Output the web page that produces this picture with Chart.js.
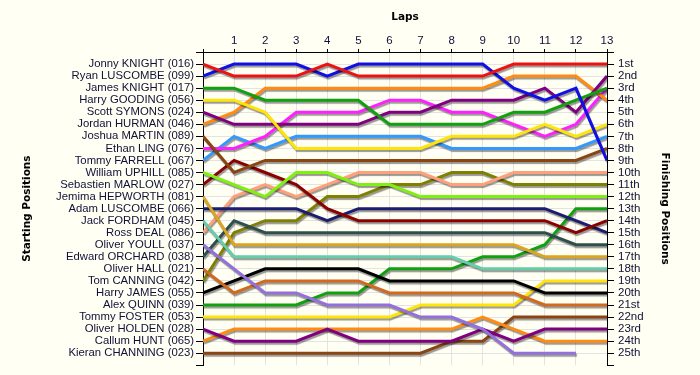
<!DOCTYPE html>
<html>
<head>
<meta charset="utf-8">
<script src="https://cdn.jsdelivr.net/npm/chart.js@4.4.1/dist/chart.umd.min.js"></script>
<style>
  html, body { margin: 0; padding: 0; background: #fffff4; }
  #wrap { width: 700px; height: 375px; }
</style>
</head>
<body>
<div id="wrap"><canvas id="chart"></canvas></div>
<script>
// Lap numbers (0 = grid)
const laps = [0, 1, 2, 3, 4, 5, 6, 7, 8, 9, 10, 11, 12, 13]

// Drivers in starting order
const drivers = [
  'Jonny KNIGHT (016)', 'Ryan LUSCOMBE (099)', 'James KNIGHT (017)', 'Harry GOODING (056)',
  'Scott SYMONS (024)', 'Jordan HURMAN (046)', 'Joshua MARTIN (089)', 'Ethan LING (076)',
  'Tommy FARRELL (067)', 'William UPHILL (085)', 'Sebastien MARLOW (027)', 'Jemima HEPWORTH (081)',
  'Adam LUSCOMBE (066)', 'Jack FORDHAM (045)', 'Ross DEAL (086)', 'Oliver YOULL (037)',
  'Edward ORCHARD (038)', 'Oliver HALL (021)', 'Tom CANNING (042)', 'Harry JAMES (055)',
  'Alex QUINN (039)', 'Tommy FOSTER (053)', 'Oliver HOLDEN (028)', 'Callum HUNT (065)',
  'Kieran CHANNING (023)'
]

// Finishing position labels
const finishLabels = [
  '1st', '2nd', '3rd', '4th', '5th', '6th', '7th', '8th', '9th', '10th', '11th', '12th', '13th',
  '14th', '15th', '16th', '17th', '18th', '19th', '20th', '21st', '22nd', '23rd', '24th', '25th'
]

// Position of each driver after every lap
const positions = [
  [1, 2, 2, 2, 1, 2, 2, 2, 2, 2, 1, 1, 1, 1],
  [2, 1, 1, 1, 2, 1, 1, 1, 1, 1, 3, 4, 3, 9],
  [3, 3, 4, 4, 4, 4, 6, 6, 6, 6, 5, 5, 4, 3],
  [4, 4, 5, 8, 8, 8, 8, 8, 7, 7, 7, 6, 7, 6],
  [5, 6, 6, 6, 6, 6, 5, 5, 4, 4, 4, 3, 5, 2],
  [6, 5, 3, 3, 3, 3, 3, 3, 3, 3, 2, 2, 2, 4],
  [7, 10, 9, 9, 9, 9, 9, 9, 9, 9, 9, 9, 9, 8],
  [8, 8, 7, 5, 5, 5, 4, 4, 5, 5, 6, 7, 6, 3],
  [9, 7, 8, 7, 7, 7, 7, 7, 8, 8, 8, 8, 8, 7],
  [10, 11, 12, 10, 10, 11, 11, 12, 12, 12, 12, 12, 12, 12],
  [11, 9, 10, 11, 13, 14, 14, 14, 14, 14, 14, 14, 15, 14],
  [12, 16, 16, 16, 16, 16, 16, 16, 16, 16, 16, 17, 17, 17],
  [13, 13, 13, 13, 14, 13, 13, 13, 13, 13, 13, 13, 14, 15],
  [14, 17, 17, 17, 17, 17, 17, 17, 17, 18, 18, 18, 18, 18],
  [15, 12, 11, 12, 11, 10, 10, 10, 11, 11, 10, 10, 10, 10],
  [16, 18, 20, 20, 21, 21, 21, 22, 22, 23, 25, 25, 25, null],
  [17, 14, 15, 15, 15, 15, 15, 15, 15, 15, 15, 15, 16, 16],
  [18, 20, 19, 19, 19, 19, 20, 20, 20, 20, 20, 21, 21, 21],
  [19, 15, 14, 14, 12, 12, 11, 11, 10, 10, 11, 11, 11, 11],
  [20, 19, 18, 18, 18, 18, 19, 19, 19, 19, 19, 20, 20, 20],
  [21, 21, 21, 21, 20, 20, 18, 18, 18, 17, 17, 16, 13, 13],
  [22, 22, 22, 22, 22, 22, 22, 21, 21, 21, 21, 19, 19, 19],
  [23, 24, 24, 24, 23, 24, 24, 24, 24, 23, 24, 23, 23, 23],
  [24, 23, 23, 23, 23, 23, 23, 23, 23, 22, 23, 24, 24, 24],
  [25, 25, 25, 25, 25, 25, 25, 25, 24, 24, 22, 22, 22, 22]
]

const lineColors = [
  '#ee1111', '#1010e6', '#10a010', '#ffe40a', '#800080', '#ff8c10', '#8b4513', '#ff20ff',
  '#3399ff', '#80f010', '#8b0000', '#daa520', '#1c1c70', '#66cdaa', '#ffa07a', '#9370db',
  '#2f4f4f', '#d2691e', '#808000', '#000000', '#10a010', '#ffe40a', '#800080', '#ff8c10',
  '#8b4513'
]

const textColor = '#101038'
const gridColor = '#e3e3e3'

// Grey drop shadow under every line
const lineShadow = {
  id: 'lineShadow',
  beforeDatasetsDraw (chart) {
    const ctx = chart.ctx
    ctx.save()
    ctx.shadowColor = 'rgba(0, 0, 0, 0.4)'
    ctx.shadowOffsetX = 1
    ctx.shadowOffsetY = 2
    ctx.shadowBlur = 1
  },
  afterDatasetsDraw (chart) {
    chart.ctx.restore()
  }
}

const datasets = drivers.map((name, i) => ({
  label: name,
  data: laps.map((lap, j) => ({ x: lap, y: positions[i][j] })),
  borderColor: lineColors[i],
  backgroundColor: lineColors[i],
  borderWidth: 3,
  pointRadius: 0,
  tension: 0,
  spanGaps: false,
  yAxisID: 'y'
}))

const hideLast = ctx => (ctx.tick && ctx.tick.value === 26 ? 'rgba(0,0,0,0)' : gridColor)

const chart = new Chart(document.querySelector('#chart').getContext('2d'), {
  type: 'line',
  data: { datasets },
  options: {
    responsive: true,
    maintainAspectRatio: false,
    animation: false,
    layout: { padding: 0 },
    plugins: {
      legend: { display: false },
      tooltip: { enabled: false }
    },
    scales: {
      x: {
        type: 'linear',
        position: 'top',
        min: 0,
        max: 13,
        afterFit: scale => { scale.height = 52 },
        ticks: {
          stepSize: 1,
          padding: 1,
          color: textColor,
          font: { family: 'Liberation Sans, Arial', size: 11.5 },
          callback: v => (v === 0 ? '' : v)
        },
        grid: { color: gridColor, tickColor: '#000', tickLength: 3 },
        border: { color: '#000', width: 1 },
        title: {
          display: true,
          text: 'Laps',
          color: '#000',
          padding: { top: 11, bottom: 0 },
          font: { family: 'DejaVu Sans', size: 10.5, weight: 'bold' }
        }
      },
      y: {
        type: 'linear',
        position: 'left',
        reverse: true,
        min: 0,
        max: 26,
        afterFit: scale => { scale.width = 203 },
        ticks: {
          stepSize: 1,
          autoSkip: false,
          padding: 2,
          color: textColor,
          font: { family: 'Liberation Sans, Arial', size: 11.3, lineHeight: 1 },
          callback: v => (v >= 1 && v <= 25 ? drivers[v - 1] : '')
        },
        grid: { color: hideLast, tickColor: '#000', tickLength: 7 },
        border: { color: '#000', width: 1 },
        title: {
          display: true,
          text: 'Starting Positions',
          color: '#000',
          padding: { top: 21, bottom: 0 },
          font: { family: 'DejaVu Sans', size: 10.5, weight: 'bold' }
        }
      },
      y2: {
        type: 'linear',
        position: 'right',
        reverse: true,
        min: 0,
        max: 26,
        afterFit: scale => { scale.width = 93 },
        ticks: {
          stepSize: 1,
          autoSkip: false,
          padding: 4,
          color: textColor,
          font: { family: 'Liberation Sans, Arial', size: 11.5, lineHeight: 1 },
          callback: v => (v >= 1 && v <= 25 ? finishLabels[v - 1] : '')
        },
        grid: { drawOnChartArea: false, tickColor: '#000', tickLength: 7 },
        border: { color: '#000', width: 1 },
        title: {
          display: true,
          text: 'Finishing Positions',
          color: '#000',
          padding: { top: 29, bottom: 0 },
          font: { family: 'DejaVu Sans', size: 10.5, weight: 'bold' }
        }
      }
    }
  },
  plugins: [lineShadow]
})
</script>
</body>
</html>
